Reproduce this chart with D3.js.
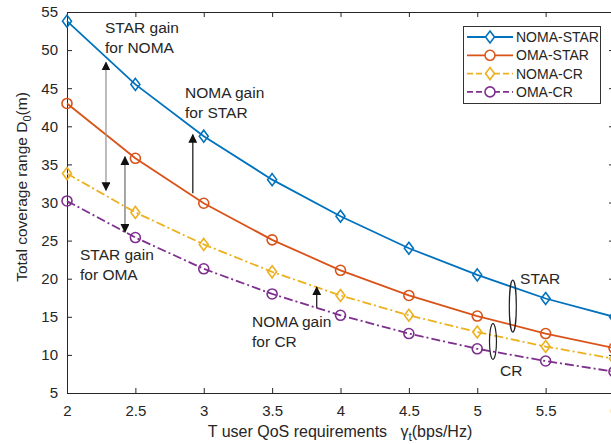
<!DOCTYPE html>
<html>
<head>
<meta charset="utf-8">
<script src="https://cdn.jsdelivr.net/npm/d3@7"></script>
<style>
  body { margin: 0; background: #fff; }
  svg { font-family: "Liberation Sans", Arial, sans-serif; }
</style>
</head>
<body>
<svg id="chart" width="611" height="444"></svg>
<script>
// data
const gammaT = [2, 2.5, 3, 3.5, 4, 4.5, 5, 5.5, 6];
const nomaStar = [53.8, 45.5, 38.7, 33.0, 28.2, 24.0, 20.5, 17.4, 15.0];
const omaStar  = [43.0, 35.8, 29.9, 25.1, 21.1, 17.8, 15.1, 12.8, 10.9];
const nomaCr   = [33.8, 28.7, 24.5, 20.9, 17.8, 15.2, 13.0, 11.1, 9.5];
const omaCr    = [30.2, 25.4, 21.3, 18.0, 15.2, 12.8, 10.8, 9.2, 7.8];
const xTicks = [2, 2.5, 3, 3.5, 4, 4.5, 5, 5.5, 6];
const yTicks = [5, 10, 15, 20, 25, 30, 35, 40, 45, 50, 55];
const seriesNames = ["NOMA-STAR", "OMA-STAR", "NOMA-CR", "OMA-CR"];

// annotations, in data units
const gainArrows = [
  {x: 2.285, y0: 31.6, y1: 48.4, both: true, color: "#999"},
  {x: 2.424, y0: 26.1, y1: 36.0, both: true, color: "#777"},
  {x: 2.92,  y0: 31.2, y1: 38.9, both: false, color: "#222"},
  {x: 3.826, y0: 16.2, y1: 18.9, both: false, color: "#222"}
];
const gainLabels = [
  {x: 2.278, y: 52.2, lines: ["STAR gain", "for NOMA"]},
  {x: 2.863, y: 43.7, lines: ["NOMA gain", "for STAR"]},
  {x: 2.095, y: 22.4, lines: ["STAR gain", "for OMA"]},
  {x: 3.353, y: 13.6, lines: ["NOMA gain", "for CR"]},
  {x: 5.313, y: 19.3, lines: ["STAR"]},
  {x: 5.166, y: 7.2,  lines: ["CR"]}
];
const groupRings = [
  {x: 5.26,  y0: 13.0, y1: 19.8},
  {x: 5.115, y0: 9.4,  y1: 14.1}
];

const colors = ["#0072BD", "#D95319", "#EDB120", "#7E2F8E"];
const markers = ["diamond", "circle", "diamond", "circle"];
const dashes = [null, null, "9,3,2,3", "9,3,2,3"];
const allSeries = [nomaStar, omaStar, nomaCr, omaCr];

const svg = d3.select("#chart");
const padL = 67, padR = 614, padT = 12, padB = 393;
const textColor = "#262626";

const x = d3.scaleLinear().domain([2, 6]).range([padL, padR]);
const y = d3.scaleLinear().domain([5, 55]).range([padB, padT]);

svg.append("defs").append("marker")
  .attr("id", "head")
  .attr("viewBox", "0 0 10 10")
  .attr("refX", 9).attr("refY", 5)
  .attr("markerWidth", 9).attr("markerHeight", 9)
  .attr("markerUnits", "userSpaceOnUse")
  .attr("orient", "auto-start-reverse")
  .append("path").attr("d", "M0,0 L10,5 L0,10 z").attr("fill", "#111");

// axes, MATLAB style box with inward ticks
function styleAxis(g) {
  g.select(".domain").attr("stroke", textColor);
  g.selectAll(".tick line").attr("stroke", textColor);
  g.selectAll(".tick text").attr("fill", textColor).attr("font-size", 15);
}
svg.append("g").attr("transform", `translate(0,${padB})`)
  .call(d3.axisBottom(x).tickValues(xTicks).tickSizeInner(-5).tickSizeOuter(0).tickPadding(12).tickFormat(d3.format("")))
  .call(styleAxis);
svg.append("g").attr("transform", `translate(0,${padT})`)
  .call(d3.axisTop(x).tickValues(xTicks).tickSizeInner(-5).tickSizeOuter(0).tickFormat(""))
  .call(styleAxis);
svg.append("g").attr("transform", `translate(${padL},0)`)
  .call(d3.axisLeft(y).tickValues(yTicks).tickSizeInner(-5).tickSizeOuter(0).tickPadding(9))
  .call(styleAxis);
svg.append("g").attr("transform", `translate(${padR},0)`)
  .call(d3.axisRight(y).tickValues(yTicks).tickSizeInner(-5).tickSizeOuter(0).tickFormat(""))
  .call(styleAxis);

// series
const line = d3.line().x((d, i) => x(gammaT[i])).y(d => y(d));
const diamond = (cx, cy) => `M${cx},${cy - 6}L${cx + 4.5},${cy}L${cx},${cy + 6}L${cx - 4.5},${cy}Z`;

allSeries.forEach((vals, s) => {
  svg.append("path").datum(vals)
    .attr("d", line)
    .attr("fill", "none")
    .attr("stroke", colors[s])
    .attr("stroke-width", 1.8)
    .attr("stroke-dasharray", dashes[s]);
  const g = svg.append("g");
  if (markers[s] === "diamond") {
    g.selectAll("path").data(vals).enter().append("path")
      .attr("d", (d, i) => diamond(x(gammaT[i]), y(d)))
      .attr("fill", "none").attr("stroke", colors[s]).attr("stroke-width", 1.6);
  } else {
    g.selectAll("circle").data(vals).enter().append("circle")
      .attr("cx", (d, i) => x(gammaT[i])).attr("cy", d => y(d)).attr("r", 5)
      .attr("fill", "none").attr("stroke", colors[s]).attr("stroke-width", 1.6);
  }
});

// gain arrows
gainArrows.forEach(a => {
  svg.append("line")
    .attr("x1", x(a.x)).attr("x2", x(a.x))
    .attr("y1", y(a.y0)).attr("y2", y(a.y1))
    .attr("stroke", a.color).attr("stroke-width", 1.3)
    .attr("marker-end", "url(#head)")
    .attr("marker-start", a.both ? "url(#head)" : null);
});

// ellipses grouping STAR / CR curves
groupRings.forEach(r => {
  svg.append("ellipse")
    .attr("cx", x(r.x)).attr("cy", (y(r.y0) + y(r.y1)) / 2)
    .attr("rx", 3.5).attr("ry", Math.abs(y(r.y0) - y(r.y1)) / 2)
    .attr("fill", "none").attr("stroke", "#222").attr("stroke-width", 1.2);
});

gainLabels.forEach(t => {
  const txt = svg.append("text")
    .attr("x", x(t.x)).attr("y", y(t.y))
    .attr("font-size", 15.5).attr("fill", textColor);
  t.lines.forEach((l, i) => {
    txt.append("tspan").attr("x", x(t.x)).attr("dy", i === 0 ? 0 : 20).text(l);
  });
});

// legend
const lg = svg.append("g");
lg.append("rect")
  .attr("x", 463.5).attr("y", 26.5).attr("width", 137).attr("height", 77)
  .attr("fill", "#fff").attr("stroke", "#333").attr("stroke-width", 1);
seriesNames.forEach((name, s) => {
  const ly = 37 + s * 18.3;
  lg.append("line").attr("x1", 467).attr("x2", 513).attr("y1", ly).attr("y2", ly)
    .attr("stroke", colors[s]).attr("stroke-width", 1.8)
    .attr("stroke-dasharray", dashes[s] ? "6,3" : null);
  if (markers[s] === "diamond") {
    lg.append("path").attr("d", diamond(490, ly))
      .attr("fill", "#fff").attr("stroke", colors[s]).attr("stroke-width", 1.6);
  } else {
    lg.append("circle").attr("cx", 490).attr("cy", ly).attr("r", 5)
      .attr("fill", "#fff").attr("stroke", colors[s]).attr("stroke-width", 1.6);
  }
  lg.append("text").attr("x", 516).attr("y", ly + 5)
    .attr("font-size", 14).attr("fill", textColor).text(name);
});

// axis titles
const xl = svg.append("text")
  .attr("x", 340).attr("y", 437).attr("text-anchor", "middle")
  .attr("font-size", 16).attr("fill", textColor)
  .attr("xml:space", "preserve");
xl.append("tspan").text("T user QoS requirements   \u03B3");
xl.append("tspan").attr("font-size", 12).attr("dy", 4).text("t");
xl.append("tspan").attr("dy", -4).text("(bps/Hz)");

const yl = svg.append("text")
  .attr("transform", "translate(27,187) rotate(-90)")
  .attr("text-anchor", "middle")
  .attr("font-size", 15.5).attr("fill", textColor);
yl.append("tspan").text("Total coverage range D");
yl.append("tspan").attr("font-size", 11).attr("dy", 4).text("0");
yl.append("tspan").attr("dy", -4).text("(m)");
</script>
</body>
</html>
